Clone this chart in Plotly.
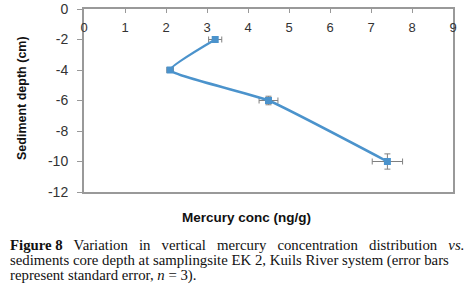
import plotly.graph_objects as go

# Data
depth_cm = [-2, -4, -6, -10]
mercury_ng_g = [3.2, 2.1, 4.5, 7.4]
mercury_se = [0.16, 0.08, 0.23, 0.37]
depth_se = [0.0, 0.15, 0.28, 0.5]
x_ticks = [0, 1, 2, 3, 4, 5, 6, 7, 8, 9]
x_tick_labels = ["0", "1", "2", "3", "4", "5", "6", "7", "8", "9"]
y_ticks = [0, -2, -4, -6, -8, -10, -12]
y_tick_labels = ["0", "-2", "-4", "-6", "-8", "-10", "-12"]

sp = "&nbsp;&nbsp; "
caption_lines = [
    "<b>Figure 8</b>" + sp + "Variation" + sp + "in" + sp + "vertical" + sp + "mercury" + sp
    + "concentration" + sp + "distribution" + sp + "<i>vs.</i>",
    "sediments core depth at samplingsite EK 2, Kuils River system (error bars",
    "represent standard error, <i>n</i> = 3).",
]

blue = "#4b93cc"
err_col = "#808080"

fig = go.Figure()
fig.add_trace(go.Scatter(
    x=mercury_ng_g, y=depth_cm,
    mode="lines+markers",
    line=dict(color=blue, width=2.5, shape="spline", smoothing=0.4),
    marker=dict(symbol="square", size=7, color=blue),
    error_x=dict(type="data", array=mercury_se, color=err_col, thickness=1, width=3),
    error_y=dict(type="data", array=depth_se, color=err_col, thickness=1, width=3),
    showlegend=False,
))

W, H = 471, 289
L, R, T, B = 84, 18, 9, 97
pw, ph = W - L - R, H - T - B

def px(xp):
    return (xp - L) / pw

def py(yp):
    return (H - B - yp) / ph

fig.update_layout(
    width=W, height=H,
    margin=dict(l=L, r=R, t=T, b=B),
    paper_bgcolor="white", plot_bgcolor="white",
    font=dict(family="Liberation Sans, Arial", size=12, color="#333333"),
    xaxis=dict(
        side="top", range=[0, 9], tickvals=x_ticks, ticktext=x_tick_labels,
        ticks="inside", ticklen=4, tickcolor="#999999",
        ticklabelposition="inside", ticklabeloverflow="allow",
        ticklabelstandoff=10,
        automargin=False,
        showline=True, linecolor="#999999", linewidth=2, mirror=True,
        showgrid=False, zeroline=False,
        tickfont=dict(size=13, color="#333333"),
    ),
    yaxis=dict(
        range=[-12, 0], tickvals=y_ticks, ticktext=y_tick_labels,
        ticks="outside", ticklen=5, tickcolor="#999999",
        ticklabeloverflow="allow", ticklabelstandoff=6,
        automargin=False,
        showline=True, linecolor="#999999", linewidth=2, mirror=True,
        showgrid=False, zeroline=False,
        tickfont=dict(size=14, color="#333333"),
    ),
)

ann = [
    dict(text="<b>Sediment depth (cm)</b>", x=px(22), y=py(98), textangle=-90,
         font=dict(size=12.5, color="#111111")),
    dict(text="<b>Mercury conc (ng/g)</b>", x=px(246), y=py(217),
         font=dict(size=13.5, color="#111111")),
]
for i, line in enumerate(caption_lines):
    ann.append(dict(text=line, x=px(8), y=py(245 + i * 15), xanchor="left",
                    font=dict(family="Liberation Serif, Times New Roman, serif",
                              size=14.8, color="#111111")))
for a in ann:
    a.update(xref="paper", yref="paper", showarrow=False)
    a.setdefault("xanchor", "center")
    a.setdefault("yanchor", "middle")
fig.update_layout(annotations=ann)

fig.write_html("out.html", config={"displayModeBar": False},
               post_script="document.body.style.margin='0px';")
